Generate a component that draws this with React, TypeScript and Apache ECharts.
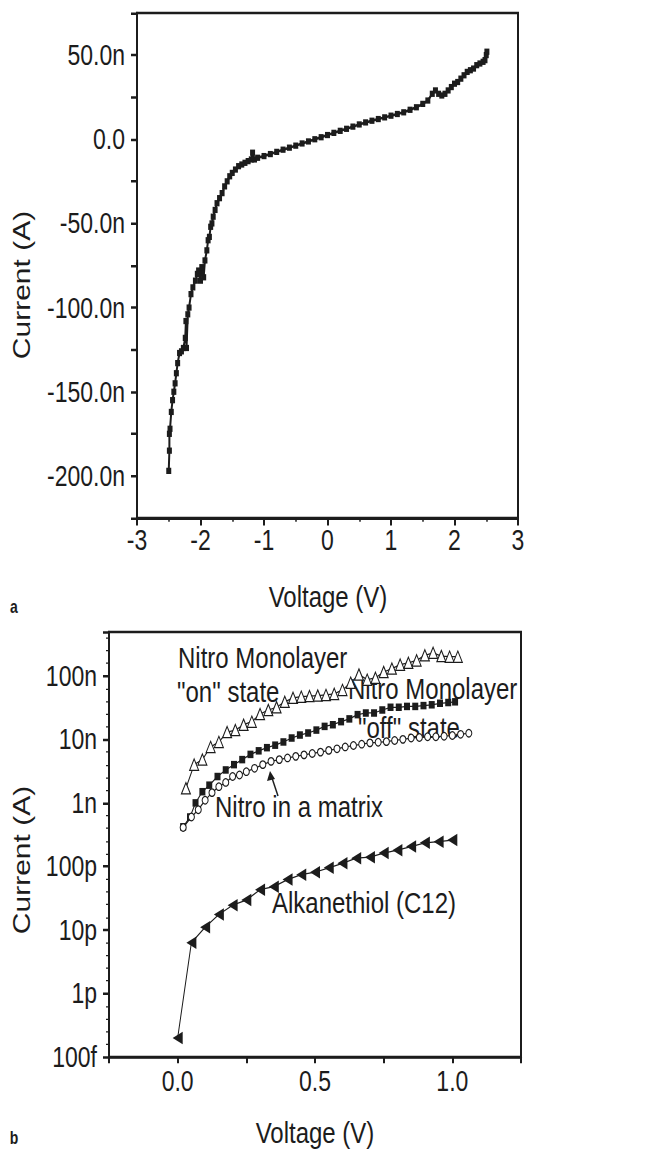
import React, { useEffect, useRef } from "react";
import * as echarts from "echarts";

// ---- Panel (a): I–V sweep, current in nA ----
const voltageA = [
  -2.5, -2.49, -2.49, -2.48, -2.46, -2.44, -2.42, -2.4, -2.38, -2.36, -2.33, -2.3, -2.27, -2.24,
  -2.23, -2.22, -2.2, -2.18, -2.15, -2.12, -2.08, -2.05, -2.03, -2.0, -1.98, -1.95, -1.93, -1.9,
  -1.88, -1.86, -1.84, -1.82, -1.8, -1.77, -1.74, -1.7, -1.66, -1.62, -1.58, -1.54, -1.5, -1.45,
  -1.4, -1.35, -1.3, -1.25, -1.2, -1.18, -1.15, -1.1, -1.0, -0.9, -0.8, -0.7, -0.6, -0.5, -0.4,
  -0.3, -0.2, -0.1, 0.0, 0.1, 0.2, 0.3, 0.4, 0.5, 0.6, 0.7, 0.8, 0.9, 1.0, 1.1, 1.2, 1.3, 1.4,
  1.5, 1.58, 1.65, 1.7, 1.75, 1.8, 1.85, 1.9, 1.95, 2.0, 2.05, 2.1, 2.15, 2.2, 2.25, 2.3, 2.35,
  2.4, 2.45, 2.48, 2.5, 2.51,
];
const currentA = [
  -197, -185, -175, -172, -162, -155, -150, -145, -139, -133, -127, -126, -124, -118,
  -108, -124, -104, -100, -92, -88, -84, -80, -78, -84, -76, -82, -72, -66,
  -60, -58, -52, -50, -46, -42, -38, -35, -32, -28, -25, -22, -20, -18,
  -16, -15, -14, -13, -12, -8, -12, -11, -10, -8.8, -7.5, -6.2, -5, -3.8, -2.5,
  -1.3, 0, 1.2, 2.5, 3.8, 5, 6.2, 7.5, 8.8, 10, 11, 12, 13, 14, 15, 16, 17.5, 19,
  21, 23, 27, 29, 27, 26, 27, 29, 31, 33, 34, 36, 38, 40, 41, 42, 44,
  45, 46, 47, 50, 52,
];
const yTicksA = [-200, -150, -100, -50, 0, 50];

// ---- Panel (b): log I–V, current in A ----
const vOn = [
  0.03, 0.06, 0.09, 0.12, 0.15, 0.18, 0.21, 0.24, 0.27, 0.3, 0.33, 0.36, 0.39, 0.42, 0.45, 0.48,
  0.51, 0.54, 0.57, 0.6, 0.63, 0.66, 0.69, 0.72, 0.75, 0.78, 0.81, 0.84, 0.87, 0.9, 0.93, 0.96,
  0.99, 1.02,
];
const iOn = [
  1.7e-9, 4.0e-9, 4.8e-9, 7.6e-9, 9.1e-9, 1.3e-8, 1.4e-8, 1.7e-8, 1.9e-8, 2.5e-8, 2.9e-8, 3.2e-8,
  3.9e-8, 4.5e-8, 4.7e-8, 4.8e-8, 4.9e-8, 5.0e-8, 5.2e-8, 6.0e-8, 7.8e-8, 1.05e-7, 8.7e-8, 9.3e-8,
  1.15e-7, 1.3e-7, 1.5e-7, 1.6e-7, 1.75e-7, 2.1e-7, 2.3e-7, 2.05e-7, 2.0e-7, 2.0e-7,
];
const vOff = [
  0.02, 0.045, 0.065, 0.09, 0.115, 0.145, 0.175, 0.205, 0.235, 0.265, 0.295, 0.325, 0.355, 0.385,
  0.415, 0.445, 0.475, 0.505, 0.535, 0.565, 0.595, 0.625, 0.655, 0.685, 0.715, 0.745, 0.775, 0.805,
  0.835, 0.865, 0.895, 0.925, 0.955, 0.985, 1.01,
];
const iOff = [
  4.2e-10, 6.0e-10, 1.0e-9, 1.5e-9, 1.9e-9, 2.6e-9, 3.3e-9, 4.0e-9, 4.8e-9, 5.8e-9, 6.6e-9, 7.4e-9,
  8.1e-9, 9.1e-9, 1.05e-8, 1.17e-8, 1.26e-8, 1.4e-8, 1.6e-8, 1.7e-8, 1.9e-8, 2.1e-8, 2.45e-8,
  2.6e-8, 2.6e-8, 2.9e-8, 3.2e-8, 3.2e-8, 3.3e-8, 3.3e-8, 3.4e-8, 3.5e-8, 3.7e-8, 3.8e-8, 3.9e-8,
];
const vMatrix = [
  0.02, 0.05, 0.075, 0.1, 0.125, 0.15, 0.175, 0.2, 0.225, 0.25, 0.28, 0.31, 0.34, 0.37, 0.4, 0.43,
  0.46, 0.49, 0.52, 0.55, 0.58, 0.61, 0.64, 0.67, 0.7, 0.73, 0.76, 0.79, 0.82, 0.85, 0.88, 0.91,
  0.94, 0.97, 1.0, 1.03, 1.06,
];
const iMatrix = [
  4.1e-10, 6.0e-10, 7.8e-10, 1.1e-9, 1.45e-9, 1.8e-9, 2.1e-9, 2.6e-9, 2.75e-9, 3.1e-9, 3.5e-9,
  4.0e-9, 4.5e-9, 4.8e-9, 5.1e-9, 5.4e-9, 5.7e-9, 6.0e-9, 6.3e-9, 6.7e-9, 7.1e-9, 7.6e-9, 8.0e-9,
  8.4e-9, 8.8e-9, 9.0e-9, 9.2e-9, 9.6e-9, 1.0e-8, 1.05e-8, 1.07e-8, 1.1e-8, 1.1e-8, 1.12e-8,
  1.15e-8, 1.2e-8, 1.25e-8,
];
const vAlk = [
  0.0, 0.05, 0.1, 0.15, 0.2, 0.25, 0.3, 0.35, 0.4, 0.45, 0.5, 0.55, 0.6, 0.65, 0.7, 0.75, 0.8,
  0.85, 0.9, 0.95, 1.0,
];
const iAlk = [
  2.0e-13, 6.3e-12, 1.1e-11, 1.75e-11, 2.45e-11, 2.95e-11, 4.3e-11, 4.8e-11, 6.2e-11, 7.4e-11,
  8.1e-11, 9.5e-11, 1.12e-10, 1.35e-10, 1.4e-10, 1.62e-10, 1.8e-10, 2.05e-10, 2.35e-10, 2.45e-10,
  2.6e-10,
];
const logTickLabels: Record<string, string> = {
  "-13": "100f",
  "-12": "1p",
  "-11": "10p",
  "-10": "100p",
  "-9": "1n",
  "-8": "10n",
  "-7": "100n",
};
const xTicksB = [0, 0.5, 1.0];

const FONT = "'Liberation Sans', Arial, Helvetica, sans-serif";
const INK = "#1c1c1c";
// the printed figure is stretched vertically; the chart is drawn in an
// unstretched frame and scaled by this factor along y
const STRETCH = 1.25;
const W = 654;
const H = 1150 / STRETCH;

const pairs = (xs: number[], ys: number[]) => xs.map((x, i) => [x, ys[i]]);
const logPairs = (xs: number[], ys: number[]) => xs.map((x, i) => [x, Math.log10(ys[i])]);

export default function App() {
  const ref = useRef<HTMLDivElement>(null);
  useEffect(() => {
    if (!ref.current) return;
    const chart = echarts.init(ref.current, null, { renderer: "svg" });
    const axisLine = { show: true, onZero: false, lineStyle: { color: INK, width: 2 } };
    const tickLabel = { color: INK, fontSize: 23, fontFamily: FONT };
    const text = (t: string, x: number, y: number, size: number, extra: any = {}) => ({
      type: "text",
      x,
      y,
      ...extra,
      style: {
        text: t,
        font: `${extra.bold ? "bold " : ""}${size}px ${FONT}`,
        fill: INK,
        align: extra.align || "left",
        verticalAlign: "middle",
      },
    });
    const option: any = {
      animation: false,
      backgroundColor: "#ffffff",
      grid: [
        { left: 137, top: 10.4, width: 381, height: 404, show: true, borderColor: INK, borderWidth: 2 },
        { left: 109, top: 505.6, width: 412, height: 340, show: true, borderColor: INK, borderWidth: 2 },
      ],
      xAxis: [
        {
          type: "value",
          gridIndex: 0,
          min: -3,
          max: 3,
          interval: 1,
          axisLine,
          axisTick: { show: true, length: 6, lineStyle: { color: INK, width: 2 } },
          minorTick: { show: true, splitNumber: 2, length: 3, lineStyle: { color: INK, width: 1.5 } },
          splitLine: { show: false },
          axisLabel: { ...tickLabel, margin: 6 },
        },
        {
          type: "value",
          gridIndex: 1,
          min: -0.25,
          max: 1.25,
          interval: 0.25,
          axisLine,
          axisTick: { show: true, length: 5, lineStyle: { color: INK, width: 2 } },
          splitLine: { show: false },
          axisLabel: {
            ...tickLabel,
            margin: 8,
            formatter: (v: number) =>
              xTicksB.some((t) => Math.abs(t - v) < 1e-6) ? v.toFixed(1) : "",
          },
        },
      ],
      yAxis: [
        {
          type: "value",
          gridIndex: 0,
          min: -225,
          max: 75,
          interval: 25,
          axisLine,
          axisTick: { show: true, length: 6, lineStyle: { color: INK, width: 2 } },
          splitLine: { show: false },
          axisLabel: {
            ...tickLabel,
            margin: 12,
            formatter: (v: number) =>
              yTicksA.includes(v) ? (v === 0 ? "0.0" : v.toFixed(1) + "n") : "",
          },
        },
        {
          type: "value",
          gridIndex: 1,
          min: -13,
          max: -6.31,
          interval: 1,
          axisLine,
          axisTick: { show: true, length: 6, lineStyle: { color: INK, width: 2 } },
          minorTick: { show: true, splitNumber: 5, length: 3, lineStyle: { color: INK, width: 1 } },
          splitLine: { show: false },
          axisLabel: {
            ...tickLabel,
            margin: 12,
            showMaxLabel: false,
            formatter: (v: number) => {
              const r = Math.round(v);
              return Math.abs(v - r) < 1e-6 && logTickLabels[String(r)] ? logTickLabels[String(r)] : "";
            },
          },
        },
      ],
      series: [
        {
          type: "line",
          xAxisIndex: 0,
          yAxisIndex: 0,
          data: pairs(voltageA, currentA),
          symbol: "rect",
          symbolSize: 5,
          lineStyle: { color: INK, width: 2 },
          itemStyle: { color: INK },
        },
        {
          type: "line",
          xAxisIndex: 1,
          yAxisIndex: 1,
          data: logPairs(vOn, iOn),
          symbol: "triangle",
          symbolSize: 9,
          lineStyle: { color: INK, width: 1 },
          itemStyle: { color: "#ffffff", borderColor: INK, borderWidth: 1 },
        },
        {
          type: "line",
          xAxisIndex: 1,
          yAxisIndex: 1,
          data: logPairs(vOff, iOff),
          symbol: "rect",
          symbolSize: 6,
          lineStyle: { color: INK, width: 1 },
          itemStyle: { color: INK },
        },
        {
          type: "line",
          xAxisIndex: 1,
          yAxisIndex: 1,
          data: logPairs(vMatrix, iMatrix),
          symbol: "circle",
          symbolSize: 6,
          lineStyle: { color: INK, width: 1 },
          itemStyle: { color: "#ffffff", borderColor: INK, borderWidth: 1 },
        },
        {
          type: "line",
          xAxisIndex: 1,
          yAxisIndex: 1,
          data: logPairs(vAlk, iAlk),
          symbol: "triangle",
          symbolRotate: 90,
          symbolSize: 10,
          lineStyle: { color: INK, width: 1 },
          itemStyle: { color: INK },
        },
      ],
      graphic: [
        text("Current (A)", 22, 228, 24, { rotation: Math.PI / 2, align: "center" }),
        text("Voltage (V)", 328, 477.6, 24, { align: "center" }),
        text("a", 14, 485.6, 14, { bold: true, align: "center" }),
        text("Current (A)", 22, 688, 24, { rotation: Math.PI / 2, align: "center" }),
        text("Voltage (V)", 315, 906.4, 24, { align: "center" }),
        text("b", 14, 910, 14, { bold: true, align: "center" }),
        text("Nitro Monolayer", 178, 526.4, 24),
        text("\"on\" state", 177, 553.6, 24),
        text("Nitro Monolayer", 348, 551.2, 24),
        text("\"off\" state", 358, 582.4, 24),
        text("Nitro in a matrix", 215, 645.6, 24),
        text("Alkanethiol (C12)", 272, 722.4, 24),
        {
          type: "line",
          shape: { x1: 278, y1: 636.8, x2: 272, y2: 622.4 },
          style: { stroke: INK, lineWidth: 1.5 },
        },
        {
          type: "polygon",
          shape: { points: [[270, 616.8], [267, 624.8], [275, 623.2]] },
          style: { fill: INK },
        },
      ],
    };
    chart.setOption(option);
    return () => chart.dispose();
  }, []);
  return (
    <div
      style={{
        position: "absolute",
        left: 0,
        top: 0,
        width: W,
        height: 1150,
        overflow: "hidden",
        background: "#fff",
      }}
    >
      <div
        ref={ref}
        style={{
          width: W,
          height: H,
          transform: `scaleY(${STRETCH})`,
          transformOrigin: "0 0",
        }}
      />
    </div>
  );
}
